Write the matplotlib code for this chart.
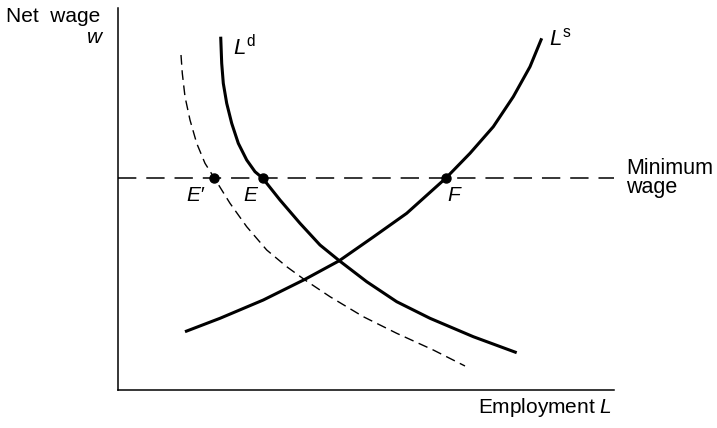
import matplotlib
matplotlib.use("Agg")
import matplotlib.pyplot as plt

plt.rcParams["font.family"] = ["Liberation Sans", "DejaVu Sans"]
plt.rcParams["mathtext.fontset"] = "custom"
plt.rcParams["mathtext.rm"] = "Liberation Sans"
plt.rcParams["mathtext.it"] = "Liberation Sans:italic"

# curves (x = employment, y = net wage)
ld_x = [102.7, 103.7, 105.3, 108.7, 113.7, 120.3, 128.7, 137, 144.5, 162, 182, 202,
        221.3, 248.7, 278.7, 312, 355.3, 398.7]
ld_y = [353.3, 326.7, 306.7, 286.7, 266.7, 246.7, 230, 218.3, 212, 190, 166.7, 145,
        129.3, 108.3, 88.3, 71.7, 53.3, 37.3]

ld2_x = [63, 64.3, 67, 72, 78.7, 87, 96.3, 112, 128.7, 148.7, 168.7, 187, 212,
         245.3, 278.7, 315.3, 347]
ld2_y = [335, 316.7, 293.3, 270, 246.7, 226.7, 212, 186.7, 163.3, 140, 123.3, 110, 93.3,
         73.3, 56.7, 40, 24]

ls_x = [67, 102, 145.3, 187, 221.3, 255.3, 288.7, 328, 352, 375.3, 395.3, 412, 423.7]
ls_y = [58.3, 71.7, 90, 110.7, 129.3, 153, 176.7, 212, 236.7, 263.3, 293.3, 323.3, 351.7]

min_wage = 212
pts_x = [96.3, 144.5, 328]
pts_labels = ["E\u2032", "E", "F"]
label_shift = [-19, -12, 8]

fig = plt.figure(figsize=(7.17, 4.28), dpi=100)
ax = fig.add_axes([118 / 717, 38 / 428, 496 / 717, 382 / 428])
ax.set_xlim(0, 496)
ax.set_ylim(0, 382)

ax.plot(ld2_x, ld2_y, color="black", lw=1.0, linestyle=(0, (7, 4)))
ax.plot(ld_x, ld_y, color="black", lw=2.2, solid_capstyle="butt", solid_joinstyle="round")
ax.plot(ls_x, ls_y, color="black", lw=2.2, solid_capstyle="butt", solid_joinstyle="round")
ax.axhline(min_wage, color="black", lw=1.1, linestyle=(0, (12, 6.5)))
ax.plot(pts_x, [min_wage] * len(pts_x), "o", color="black", ms=6.5)

for x, lab, dx in zip(pts_x, pts_labels, label_shift):
    ax.text(x + dx, min_wage - 8, lab, ha="center", va="top", fontsize=15, style="italic")

ax.text(115, 335, r"$L^{\rm d}$", fontsize=16, va="baseline", ha="left")
ax.text(431, 345, r"$L^{\rm s}$", fontsize=16, va="baseline", ha="left")

for side in ["top", "right"]:
    ax.spines[side].set_visible(False)
for side in ["left", "bottom"]:
    ax.spines[side].set_linewidth(1.1)
ax.set_xticks([])
ax.set_yticks([])

fig.text(6 / 717, 1 - 22 / 428, "Net  wage", fontsize=15, va="baseline", ha="left")
fig.text(102 / 717, 1 - 43 / 428, "w", fontsize=15, style="italic", va="baseline", ha="right")
fig.text(626 / 717, 1 - 174 / 428, "Minimum", fontsize=15.5, va="baseline", ha="left")
fig.text(626 / 717, 1 - 193 / 428, "wage", fontsize=15.5, va="baseline", ha="left")
fig.text(612 / 717, 1 - 413 / 428, r"Employment $L$", fontsize=15, va="baseline", ha="right")

fig.savefig("out.png", dpi=100)
